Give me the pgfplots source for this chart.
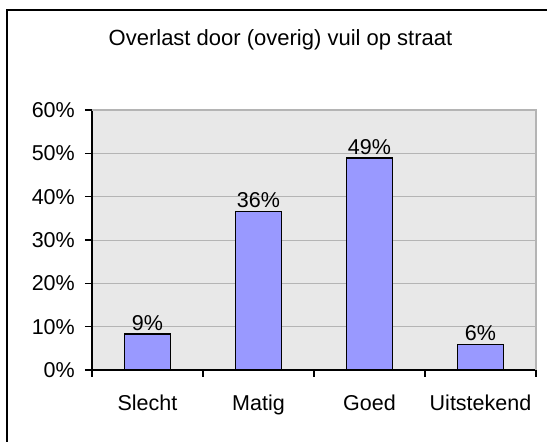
\documentclass[border=0pt]{standalone}
\usepackage{pgfplots}
\pgfplotsset{compat=1.18}
\usepackage{fontspec}
\setmainfont{Liberation Sans}
\definecolor{barblue}{HTML}{9999FF}
\definecolor{plotbg}{HTML}{E8E8E8}
\definecolor{gridgray}{HTML}{B4B4B4}
\begin{document}
\begin{tikzpicture}[font=\fontsize{21.5}{25}\selectfont]
\useasboundingbox (-92pt,-72pt) rectangle (455pt,370pt);
% outer chart frame (only left and top edges fall inside the picture)
\draw[line width=2pt] (-85pt,-100pt) -- (-85pt,360pt) -- (480pt,360pt);
\node[anchor=base, font=\fontsize{22}{26}\selectfont] at (188.5pt,324pt) {Overlast door (overig) vuil op straat};
\begin{axis}[
  at={(0pt,0pt)}, anchor=south west,
  width=444pt, height=260pt, scale only axis,
  ybar, bar width=46pt,
  xmin=-0.5, xmax=3.5, ymin=0, ymax=60,
  axis x line*=bottom, axis y line*=left,
  axis line style={line width=1.3pt, black},
  axis background/.style={fill=plotbg},
  tick align=outside, major tick length=7pt,
  tick style={black, line width=1.2pt},
  xtick={-0.5,0.5,1.5,2.5,3.5}, xticklabels={},
  extra x ticks={0,1,2,3},
  extra x tick labels={Slecht,Matig,Goed,Uitstekend},
  extra x tick style={major tick length=0pt,
    xticklabel style={anchor=base, inner sep=0pt, yshift=-41pt}},
  ytick={0,10,...,60},
  yticklabels={0\%,10\%,20\%,30\%,40\%,50\%,60\%},
  yticklabel style={anchor=east, inner sep=0pt, xshift=-10pt},
  ymajorgrids, grid style={gridgray, line width=1pt},
  point meta=explicit symbolic,
  nodes near coords,
  nodes near coords style={anchor=base, inner sep=0pt, yshift=4pt, black},
  clip=false,
]
\addplot[fill=barblue, draw=black, line width=1.3pt] coordinates {
  (0,8.3) [9\%]
  (1,36.5) [36\%]
  (2,48.9) [49\%]
  (3,5.9) [6\%]
};
\draw[gridgray, line width=1.2pt] (rel axis cs:0,1) -- (rel axis cs:1,1) -- (rel axis cs:1,0);
\end{axis}
\end{tikzpicture}
\end{document}
